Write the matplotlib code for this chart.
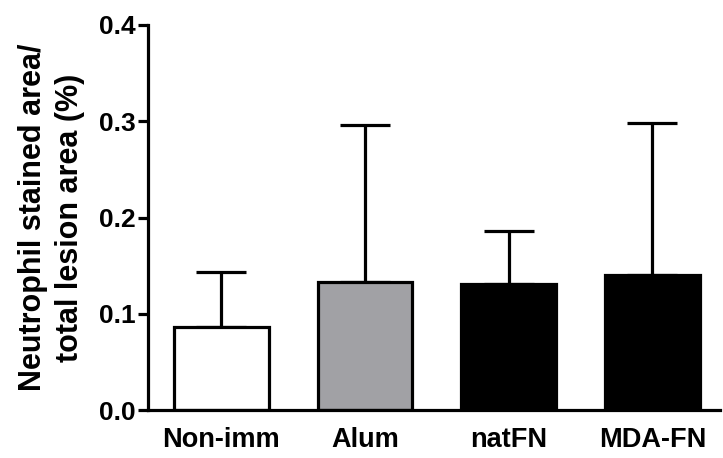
import matplotlib.pyplot as plt
import numpy as np

plt.rcParams['font.family'] = ['Liberation Sans', 'DejaVu Sans']
plt.rcParams['font.weight'] = 'bold'

# data
groups = ['Non-imm', 'Alum', 'natFN', 'MDA-FN']
means = [0.086, 0.133, 0.131, 0.140]
sd_upper = [0.057, 0.163, 0.055, 0.158]
bar_colors = ['white', '#a1a1a5', 'black', 'black']
y_ticks = [0.0, 0.1, 0.2, 0.3, 0.4]

fig = plt.figure(figsize=(7.23, 4.58), dpi=100)
ax = fig.add_axes([148 / 723, 1 - 410 / 458, (720 - 148) / 723, (410 - 25) / 458])

x = np.arange(len(groups))
lw = 2.3

# error bars first so black bars cover the stem
ax.errorbar(x, means, yerr=[np.zeros(len(x)), sd_upper], fmt='none',
            ecolor='black', elinewidth=lw, capsize=18, capthick=lw, zorder=1)
ax.bar(x, means, width=0.66, color=bar_colors, edgecolor='black',
       linewidth=lw, zorder=2)

ax.set_xlim(-0.51, 3.47)
ax.set_ylim(0, 0.4)
ax.set_yticks(y_ticks)
ax.set_yticklabels([f'{t:.1f}' for t in y_ticks], fontsize=19, fontweight='bold')
ax.set_xticks(x)
ax.set_xticklabels(groups, fontsize=19.5, fontweight='bold')

ax.spines['top'].set_visible(False)
ax.spines['right'].set_visible(False)
ax.spines['left'].set_linewidth(lw)
ax.spines['bottom'].set_linewidth(lw)
ax.tick_params(axis='y', length=7.5, width=lw, pad=1.5)
ax.tick_params(axis='x', length=0, pad=12)

ax.set_ylabel('Neutrophil stained area/\ntotal lesion area (%)', fontsize=22,
              fontweight='bold', linespacing=1.3, labelpad=10)

fig.savefig('out.png', dpi=100)
